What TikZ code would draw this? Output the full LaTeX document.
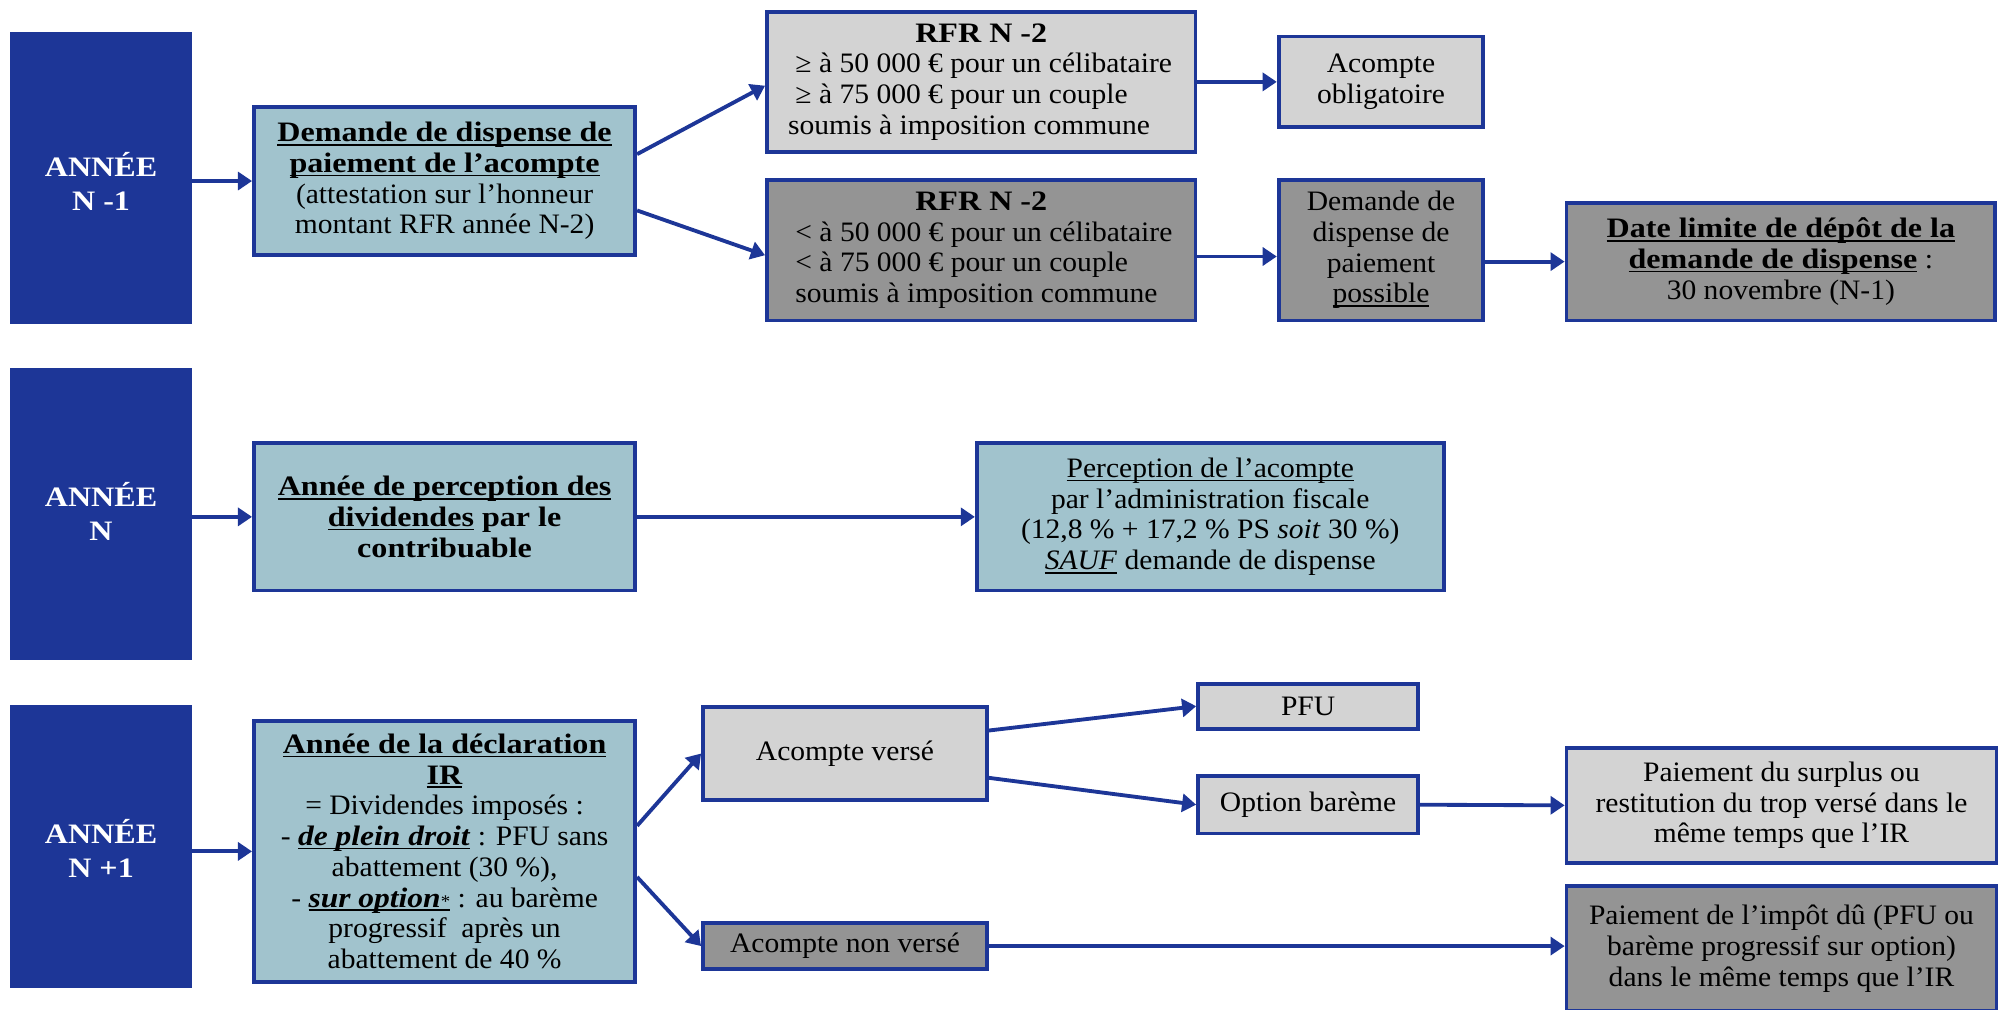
\documentclass[tikz,border=0pt]{standalone}
\usepackage{fontspec}
\setmainfont{Liberation Serif}[FakeStretch=1.05, BoldFeatures={FakeStretch=1.14}, BoldItalicFeatures={FakeStretch=1.12}]
\usetikzlibrary{arrows.meta,calc}
\definecolor{navy}{RGB}{29,54,151}
\definecolor{lblue}{RGB}{161,195,205}
\definecolor{lgrey}{RGB}{211,211,211}
\definecolor{dgrey}{RGB}{148,148,148}
\tikzset{
  yearbox/.style={fill=navy, draw=none, inner sep=0pt, text=white, align=center,
    font=\fontsize{22}{27}\selectfont\bfseries, minimum width=142pt},
  box/.style={draw=navy, line width=3pt, inner sep=0pt, align=center, text=black,
    font=\fontsize{22}{24}\selectfont},
  bluebox/.style={box, fill=lblue},
  lbox/.style={box, fill=lgrey},
  dbox/.style={box, fill=dgrey},
  link/.style={draw=navy, line width=3pt, -{Triangle[length=11pt,width=14pt]}},
}
\newcommand{\ul}[1]{{\setbox0\hbox{#1}\rlap{\rule[-3pt]{\wd0}{1.3pt}}\box0}}
\newcommand{\yearlabel}[2]{\raisebox{#1}[0pt][0pt]{\begin{tabular}{@{}c@{}}#2\end{tabular}}}
\begin{document}
\begin{tikzpicture}[x=1pt,y=-1pt]
\useasboundingbox (0,0) rectangle (1568,789);
\clip (0,0) rectangle (1568,789);
% year boxes
\node[yearbox, minimum height=228pt] (y1) at (79,139) {\yearlabel{-12pt}{ANNÉE\\N -1}};
\node[yearbox, minimum height=228pt] (y2) at (79,402) {\yearlabel{-7pt}{ANNÉE\\N}};
\node[yearbox, minimum height=221pt] (y3) at (79,661.5) {\yearlabel{-11pt}{ANNÉE\\N +1}};
% row N-1
\node[bluebox, minimum width=298pt, minimum height=116pt] (dem) at (347.5,141.5)
  {\textbf{\ul{Demande de dispense de}}\\\textbf{\ul{paiement de l’acompte}}\\(attestation sur l’honneur\\montant RFR année N-2)};
\node[lbox, minimum width=335pt, minimum height=109pt] (rfr1) at (767,64)
  {\textbf{RFR N -2}\\\makebox[302pt][l]{ ≥ à 50 000 € pour un célibataire}\\\makebox[302pt][l]{ ≥ à 75 000 € pour un couple}\\\makebox[302pt][l]{soumis à imposition commune}};
\node[lbox, minimum width=160pt, minimum height=71pt] (oblig) at (1079.5,64)
  {Acompte\\obligatoire};
\node[dbox, minimum width=335pt, minimum height=110pt] (rfr2) at (767,195.5)
  {\textbf{RFR N -2}\\\makebox[302pt][l]{ < à 50 000 € pour un célibataire}\\\makebox[302pt][l]{ < à 75 000 € pour un couple}\\\makebox[302pt][l]{ soumis à imposition commune}};
\node[dbox, minimum width=160pt, minimum height=110pt] (poss) at (1079.5,195.5)
  {Demande de\\dispense de\\paiement\\\ul{possible}};
\node[dbox, minimum width=335pt, minimum height=92pt] (date) at (1392,204.5)
  {\textbf{\ul{Date limite de dépôt de la}}\\\textbf{\ul{demande de dispense}} :\\30 novembre (N-1)};
% row N
\node[bluebox, minimum width=298pt, minimum height=115pt] (perc) at (347.5,404)
  {\textbf{\ul{Année de perception des}}\\\textbf{\ul{dividendes} par le}\\\textbf{contribuable}};
\node[bluebox, minimum width=365pt, minimum height=115pt] (acpt) at (946,404)
  {\ul{Perception de l’acompte}\\par l’administration fiscale\\(12,8 \% + 17,2 \% PS \textit{soit} 30 \%)\\\ul{\textit{SAUF}} demande de dispense};
% row N+1
\node[bluebox, minimum width=298pt, minimum height=204pt] (decl) at (347.5,665.5)
  {\textbf{\ul{Année de la déclaration}}\\\textbf{\ul{IR}}\\= Dividendes imposés :\\- \ul{\textbf{\textit{de plein droit}}} : PFU sans\\abattement (30 \%),\\- \ul{\textbf{\textit{sur option}}{\fontsize{14}{14}\selectfont*}} : au barème\\progressif~ après un\\abattement de 40 \%};
\node[lbox, minimum width=222pt, minimum height=73pt] (verse) at (660.5,589) {Acompte versé};
\node[dbox, minimum width=222pt, minimum height=36pt] (nonv) at (660.5,739.5) {Acompte non versé};
\node[lbox, minimum width=172pt, minimum height=35pt] (pfu) at (1022.5,552) {PFU};
\node[lbox, minimum width=172pt, minimum height=45pt] (opt) at (1022.5,629) {Option barème};
\node[lbox, minimum width=336pt, minimum height=90pt] (surp) at (1392.5,629.5)
  {Paiement du surplus ou\\restitution du trop versé dans le\\même temps que l’IR};
\node[dbox, minimum width=336pt, minimum height=98pt] (impot) at (1392.5,741.5)
  {Paiement de l’impôt dû (PFU ou\\barème progressif sur option)\\dans le même temps que l’IR};
% connectors
\draw[link] (dem.west -| y1.east) -- (dem.west);
\draw[link] ([yshift=21pt]dem.east) -- ([yshift=-3pt]rfr1.west);
\draw[link] ([yshift=-23pt]dem.east) -- ([yshift=-4pt]rfr2.west);
\draw[link] (rfr1.east) -- (oblig.west);
\draw[link] ([yshift=-5pt]rfr2.east) -- ([yshift=-5pt]poss.west);
\draw[link] (date.west -| poss.east) -- (date.west);
\draw[link] (perc.west -| y2.east) -- (perc.west);
\draw[link] (perc.east) -- (acpt.west);
\draw[link] (decl.west -| y3.east) -- (decl.west);
\draw[link] ([yshift=20pt]decl.east) -- (verse.west);
\draw[link] ([yshift=-20pt]decl.east) -- (nonv.west);
\draw[link] ([yshift=18pt]verse.east) -- (pfu.west);
\draw[link] ([yshift=-19pt]verse.east) -- (opt.west);
\draw[link] (opt.east) -- (surp.west);
\draw[link] (nonv.east) -- (nonv.east -| impot.west);
\end{tikzpicture}
\end{document}
